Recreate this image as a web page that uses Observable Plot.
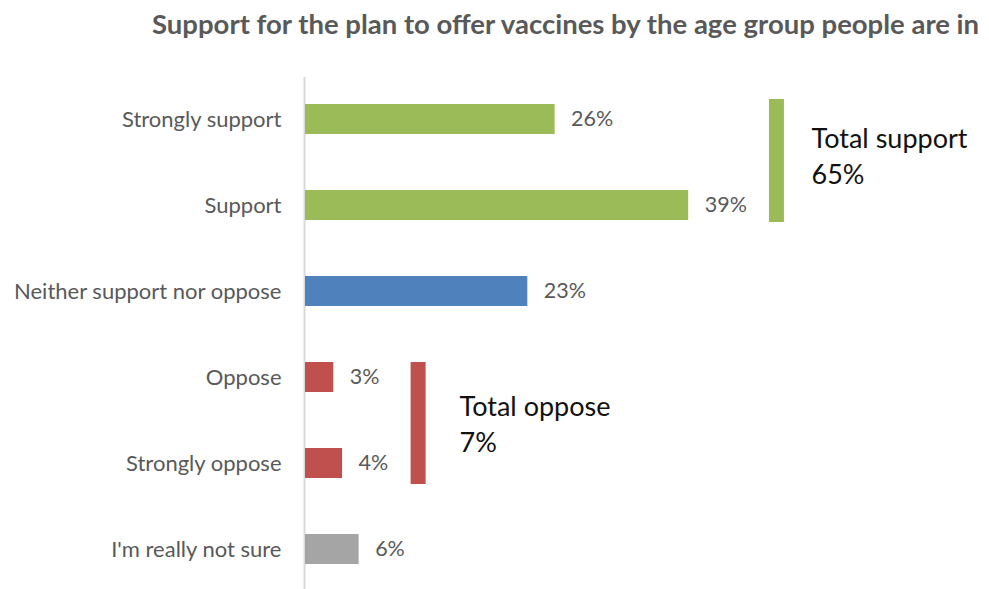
<!DOCTYPE html>
<html>
<head>
<meta charset="utf-8">
<script src="https://cdn.jsdelivr.net/npm/d3@7"></script>
<script src="https://cdn.jsdelivr.net/npm/@observablehq/plot@0.6"></script>
<style>
  html, body { margin: 0; padding: 0; background: #fff; }
  #title { height: 50px; width: 989px; box-sizing: border-box; padding-left: 152px; padding-top: 7px; line-height: 34px;
    font-family: Lato, sans-serif; font-weight: bold; font-size: 27.5px; color: #595959; white-space: nowrap; overflow: hidden; }
  #chart svg { display: block; }
</style>
</head>
<body>
<div id="title">Support for the plan to offer vaccines by the age group people are in</div>
<div id="chart"></div>
<script>
const categories = ["Strongly support", "Support", "Neither support nor oppose", "Oppose", "Strongly oppose", "I'm really not sure"];
const values = [25.6, 39.3, 22.8, 2.9, 3.8, 5.5];
const groups = ["support", "support", "neutral", "oppose", "oppose", "unsure"];
const totalLabels = ["Total support", "Total oppose"];
const totalValues = [65, 7];
const totalFrom = ["Strongly support", "Oppose"];
const totalTo = ["Support", "Strongly oppose"];

const colorOf = {support: "#9BBB59", neutral: "#4F81BD", oppose: "#C0504D", unsure: "#A5A5A5"};
const rows = categories.map((c, i) => ({category: c, value: values[i], group: groups[i]}));
const bracketX = [48.3, 11.55];
const textX = [51.9, 15.8];
const totals = totalLabels.map((l, i) => ({label: l, value: totalValues[i], from: totalFrom[i], to: totalTo[i],
  bx: bracketX[i], tx: textX[i], color: i === 0 ? colorOf.support : colorOf.oppose}));
const supportTotal = totals.filter((d, i) => i === 0);
const opposeTotal = totals.filter((d, i) => i === 1);

const totalText = (data, dy) => Plot.text(data, {x: "tx", y: "from", text: d => d.label + "\n" + d.value + "%",
  textAnchor: "start", lineAnchor: "middle", lineHeight: 1.33, fontSize: 27, fill: "#111", dy});

const chart = Plot.plot({
  width: 989,
  height: 539,
  marginLeft: 305,
  marginRight: 0,
  marginTop: 27,
  marginBottom: 0,
  style: {fontFamily: "Lato, sans-serif", background: "#fff"},
  x: {domain: [0, 70.15], axis: null},
  y: {domain: categories, paddingInner: 0.65, paddingOuter: 0.2785, insetTop: 3, label: null, tickFormat: d => d},
  marks: [
    Plot.axisY({tickSize: 0, tickPadding: 24, fontSize: 22, color: "#595959", label: null}),
    Plot.ruleX([0], {stroke: "#D9D9D9", strokeWidth: 2, dx: -1}),
    Plot.barX(rows, {x: "value", y: "category", fill: d => colorOf[d.group]}),
    Plot.text(rows, {x: "value", y: "category", text: d => Math.round(d.value) + "%", textAnchor: "start", dx: 16, fontSize: 21.5, fill: "#595959"}),
    Plot.ruleX(supportTotal, {x: "bx", y1: "from", y2: "to", stroke: "color", strokeWidth: 15, insetTop: -5, insetBottom: -2}),
    Plot.ruleX(opposeTotal, {x: "bx", y1: "from", y2: "to", stroke: "color", strokeWidth: 15, insetTop: 0, insetBottom: -6}),
    totalText(supportTotal, 35),
    totalText(opposeTotal, 45)
  ]
});
document.getElementById("chart").appendChild(chart);
</script>
</body>
</html>
